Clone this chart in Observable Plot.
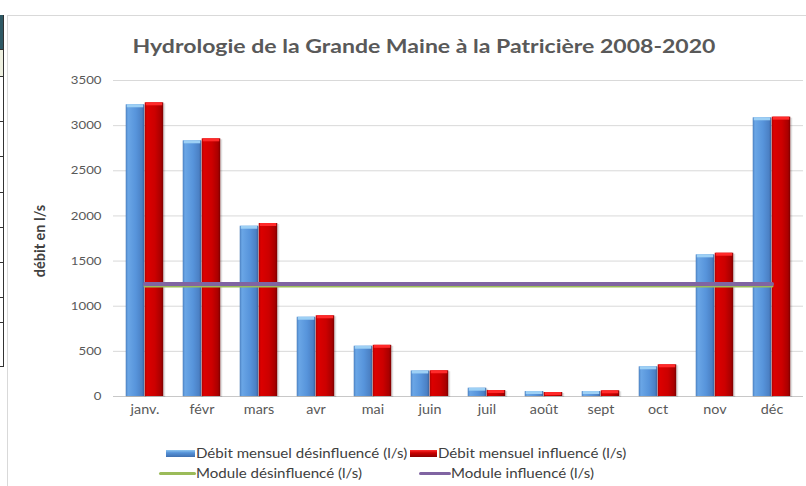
<!DOCTYPE html>
<html>
<head>
<meta charset="utf-8">
<script src="https://cdn.jsdelivr.net/npm/d3@7"></script>
<script src="https://cdn.jsdelivr.net/npm/@observablehq/plot@0.6"></script>
<style>
  html, body { margin: 0; padding: 0; background: #fff; }
  #wrap { position: relative; width: 806px; height: 486px; overflow: hidden; font-family: Lato, "Open Sans", sans-serif; }
  #chart { position: absolute; left: 0; top: 0; }
  .border { position: absolute; left: 7px; top: 15px; right: -2px; bottom: -2px; border: 1px solid #d9d9d9; }
  .strip { position: absolute; left: 0; width: 4px; border-right: 1px solid #333; border-bottom: 1px solid #333; box-sizing: border-box; }
  #title { position: absolute; left: 424px; top: 35px; transform: translateX(-50%) scaleX(1.28); font-weight: bold; font-size: 18px; line-height: 22px; color: #595959; white-space: nowrap; }
  #ylabel { position: absolute; left: 39px; top: 241px; transform: translate(-50%, -50%) rotate(-90deg); font-weight: bold; font-size: 14.5px; color: #404040; white-space: nowrap; }
  .leg { position: absolute; font-size: 13px; color: #404040; white-space: nowrap; line-height: 14px; transform-origin: 0 50%; transform: scaleX(1.16); }
  .sw { position: absolute; }
</style>
</head>
<body>
<div id="wrap">
  <div class="border"></div>
  <div class="strip" style="top:15px;height:35px;background:#2f5965;"></div>
  <div class="strip" style="top:50px;height:27px;background:#eef0e0;"></div>
  <div class="strip" style="top:77px;height:45px;"></div>
  <div class="strip" style="top:122px;height:35px;"></div>
  <div class="strip" style="top:157px;height:36px;"></div>
  <div class="strip" style="top:193px;height:35px;"></div>
  <div class="strip" style="top:228px;height:35px;"></div>
  <div class="strip" style="top:263px;height:35px;"></div>
  <div class="strip" style="top:298px;height:25px;"></div>
  <div class="strip" style="top:323px;height:44px;"></div>
  <div id="chart"></div>
  <div id="title"></div>
  <div id="ylabel"></div>
  <div id="legend"></div>
</div>
<script>
const title = "Hydrologie de la Grande Maine à la Patricière 2008-2020";
const yLabel = "débit en l/s";
const months = ["janv.", "févr", "mars", "avr", "mai", "juin", "juil", "août", "sept", "oct", "nov", "déc"];
const debitDesinfluence = [3231, 2832, 1886, 878, 557, 283, 92, 55, 55, 329, 1569, 3087];
const debitInfluence = [3253, 2854, 1916, 894, 567, 285, 66, 44, 63, 351, 1587, 3094];
const moduleDesinfluence = 1225;
const moduleInfluence = 1245;
const yTicks = [0, 500, 1000, 1500, 2000, 2500, 3000, 3500];
const seriesNames = [
  "Débit mensuel désinfluencé (l/s)",
  "Débit mensuel influencé (l/s)",
  "Module désinfluencé (l/s)",
  "Module influencé (l/s)"
];

const rows = months.map((m, i) => ({
  month: m,
  desinf: debitDesinfluence[i],
  inf: debitInfluence[i],
  modDesinf: moduleDesinfluence,
  modInf: moduleInfluence
}));

const half = 57.5 / 2;
const barW = 19;

const plot = Plot.plot({
  width: 806,
  height: 486,
  marginTop: 80,
  marginBottom: 90,
  marginLeft: 113,
  marginRight: 3,
  style: { fontFamily: "Lato, 'Open Sans', sans-serif", background: "transparent" },
  x: { type: "band", domain: months, padding: 0, label: null },
  y: { domain: [0, 3500], label: null },
  marks: [
    Plot.ruleY(yTicks.filter(d => d > 0), { stroke: "#d9d9d9", strokeWidth: 1 }),
    Plot.ruleY([0], { stroke: "#c8c8c8", strokeWidth: 1.2 }),
    Plot.axisY({ ticks: yTicks, tickSize: 0, tickPadding: 12, fontSize: 11.5, fill: "#595959", tickFormat: d => String(d), label: null }),
    Plot.axisX({ tickSize: 0, tickPadding: 9, fontSize: 12.5, fill: "#595959", label: null }),
    // shadows
    Plot.barY(rows, { x: "month", y: "desinf", insetLeft: half - barW - 1, insetRight: half - 1, fill: "#000", fillOpacity: 0.12, dx: 1, dy: 1 }),
    Plot.barY(rows, { x: "month", y: "inf", insetLeft: half - 1, insetRight: half - barW - 1, fill: "#000", fillOpacity: 0.12, dx: 1, dy: 1 }),
    // bars
    Plot.barY(rows, { x: "month", y: "desinf", insetLeft: half - barW, insetRight: half, fill: "url(#gBlue)" }),
    Plot.barY(rows, { x: "month", y: "inf", insetLeft: half, insetRight: half - barW, fill: "url(#gRed)" }),
    // top caps
    Plot.barY(rows, { x: "month", y1: "desinf", y2: "desinf", insetBottom: -3, insetLeft: half - barW + 1, insetRight: half + 1, fill: "#9dd0f5" }),
    Plot.barY(rows, { x: "month", y1: "inf", y2: "inf", insetBottom: -3, insetLeft: half + 1, insetRight: half - barW + 1, fill: "#ff2a2a" }),
    // modules
    Plot.lineY(rows, { x: "month", y: "modDesinf", stroke: "#9bbb59", strokeWidth: 3 }),
    Plot.lineY(rows, { x: "month", y: "modInf", stroke: "#8064a2", strokeWidth: 4 })
  ]
});

const defs = d3.select(plot).insert("defs", ":first-child");
function grad(id, stops) {
  const g = defs.append("linearGradient").attr("id", id).attr("x1", "0").attr("x2", "1").attr("y1", "0").attr("y2", "0");
  stops.forEach(([o, c]) => g.append("stop").attr("offset", o).attr("stop-color", c));
}
grad("gBlue", [["0%", "#4a7fc0"], ["12%", "#6aa6e6"], ["55%", "#5794db"], ["88%", "#4b80c4"], ["100%", "#3a629c"]]);
grad("gRed", [["0%", "#b00000"], ["12%", "#dc0000"], ["55%", "#cc0000"], ["88%", "#a80000"], ["100%", "#7a0000"]]);

// widen axis labels horizontally, like the stretched original
d3.select(plot).selectAll("g[aria-label='y-axis tick label'] text, g[aria-label='x-axis tick label'] text").each(function () {
  const el = d3.select(this);
  const t = el.attr("transform") || "";
  el.attr("transform", t + " scale(1.15,1)");
});

document.getElementById("chart").appendChild(plot);
document.getElementById("title").textContent = title;
document.getElementById("ylabel").textContent = yLabel;

const legend = document.getElementById("legend");
const legendItems = [
  { name: seriesNames[0], type: "rect", grad: "linear-gradient(#8fc6f0, #5592d8 40%, #3f6fb0)", sx: 166, sw: 29, y: 453, tx: 196 },
  { name: seriesNames[1], type: "rect", grad: "linear-gradient(#ff3030, #cc0000 40%, #8a0000)", sx: 410, sw: 27, y: 453, tx: 438 },
  { name: seriesNames[2], type: "line", color: "#9bbb59", sx: 159, sw: 37, y: 473, tx: 196 },
  { name: seriesNames[3], type: "line", color: "#8064a2", sx: 419, sw: 32, y: 473, tx: 451 }
];
legendItems.forEach(it => {
  const sw = document.createElement("div");
  sw.className = "sw";
  sw.style.left = it.sx + "px";
  sw.style.width = it.sw + "px";
  if (it.type === "rect") {
    sw.style.top = (it.y - 3.5) + "px";
    sw.style.height = "7px";
    sw.style.background = it.grad;
  } else {
    sw.style.top = (it.y - 1.5) + "px";
    sw.style.height = "3px";
    sw.style.borderRadius = "2px";
    sw.style.background = it.color;
  }
  legend.appendChild(sw);
  const t = document.createElement("div");
  t.className = "leg";
  t.style.left = it.tx + "px";
  t.style.top = (it.y - 7.5) + "px";
  t.textContent = it.name;
  legend.appendChild(t);
});
</script>
</body>
</html>
